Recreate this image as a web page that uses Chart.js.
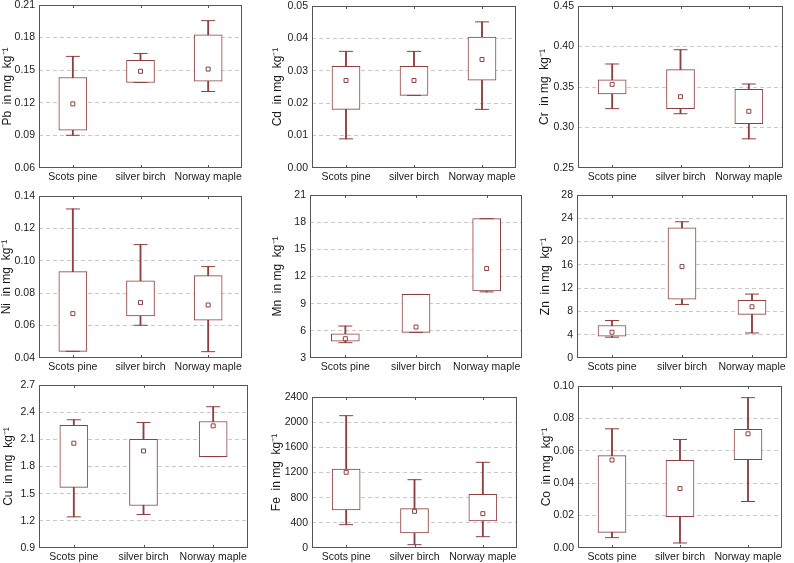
<!DOCTYPE html>
<html>
<head>
<meta charset="utf-8">
<script src="https://cdn.jsdelivr.net/npm/chart.js@4/dist/chart.umd.min.js"></script>
<style>
  html, body { margin: 0; padding: 0; background: #fff; }
  body { width: 794px; height: 563px; position: relative; overflow: hidden; }
  canvas { position: absolute; }
</style>
</head>
<body>
<script>
// values, per species: [min, box bottom, marker, box top, max]
const categories = ["Scots pine", "silver birch", "Norway maple"];

const pb = [[0.0901, 0.0947, 0.119, 0.1433, 0.1627], [0.1387, 0.1387, 0.149, 0.159, 0.1654], [0.1304, 0.1399, 0.151, 0.1826, 0.1956]];
const pbTicks = [0.06, 0.09, 0.12, 0.15, 0.18, 0.21];

const cd = [[0.009, 0.0181, 0.027, 0.0314, 0.036], [0.0224, 0.0224, 0.027, 0.0314, 0.036], [0.0181, 0.0271, 0.0335, 0.0404, 0.0451]];
const cdTicks = [0.00, 0.01, 0.02, 0.03, 0.04, 0.05];

const cr = [[0.3233, 0.3414, 0.3533, 0.359, 0.3784], [0.317, 0.3233, 0.338, 0.3714, 0.396], [0.286, 0.3047, 0.320, 0.347, 0.3537]];
const crTicks = [0.25, 0.30, 0.35, 0.40, 0.45];

const ni = [[0.0441, 0.0441, 0.0674, 0.0933, 0.132], [0.0602, 0.0659, 0.0742, 0.0877, 0.110], [0.0439, 0.0633, 0.0727, 0.0908, 0.0964]];
const niTicks = [0.04, 0.06, 0.08, 0.10, 0.12, 0.14];

const mn = [[4.69, 4.87, 5.13, 5.68, 6.53], [5.83, 5.83, 6.42, 10.02, 10.02], [10.3, 10.42, 12.88, 18.39, 18.39]];
const mnTicks = [3, 6, 9, 12, 15, 18, 21];

const zn = [[3.57, 3.74, 4.43, 5.58, 6.44], [9.2, 10.12, 15.7, 22.37, 23.4], [4.3, 7.5, 8.8, 9.9, 10.98]];
const znTicks = [0, 4, 8, 12, 16, 20, 24, 28];

const cu = [[1.244, 1.569, 2.057, 2.256, 2.316], [1.27, 1.369, 1.972, 2.101, 2.286], [1.909, 1.909, 2.249, 2.297, 2.46]];
const cuTicks = [0.9, 1.2, 1.5, 1.8, 2.1, 2.4, 2.7];

const fe = [[371, 604, 1203, 1256, 2103], [53, 239, 583, 625, 1086], [180, 429, 546, 853, 1362]];
const feTicks = [0, 400, 800, 1200, 1600, 2000, 2400];

const co = [[0.0064, 0.0096, 0.0543, 0.057, 0.0736], [0.0031, 0.0193, 0.0367, 0.0541, 0.067], [0.0287, 0.0545, 0.0705, 0.0732, 0.0928]];
const coTicks = [0.00, 0.02, 0.04, 0.06, 0.08, 0.10];

// plot-area boxes on the page [left, top, right, bottom], d = gap from title centre to frame
const panels = [
    { el: "Pb", vals: pb, ticks: pbTicks, dec: 2, area: [39, 5, 247, 168], d: 31 },
    { el: "Cd", vals: cd, ticks: cdTicks, dec: 2, area: [312, 6, 521, 168], d: 34.5 },
    { el: "Cr", vals: cr, ticks: crTicks, dec: 2, area: [578, 6, 788, 168], d: 33 },
    { el: "Ni", vals: ni, ticks: niTicks, dec: 2, area: [39, 196, 247, 358], d: 32 },
    { el: "Mn", vals: mn, ticks: mnTicks, dec: 0, area: [310, 195, 527, 358], d: 32.3 },
    { el: "Zn", vals: zn, ticks: znTicks, dec: 0, area: [577, 195, 792, 358], d: 31.7 },
    { el: "Cu", vals: cu, ticks: cuTicks, dec: 1, area: [39, 385, 253, 548], d: 30.7 },
    { el: "Fe", vals: fe, ticks: feTicks, dec: 0, area: [312, 397, 522, 548], d: 35 },
    { el: "Co", vals: co, ticks: coTicks, dec: 2, area: [578, 386, 787, 548], d: 31.6 }
];

const boxColor = "#8f3f3f";
const frameColor = "#555555";
const AXIS_W = 44, PAD_T = 12, PAD_R = 3, AXIS_H = 22;

Chart.defaults.font.family = "'Liberation Sans', Arial, sans-serif";
Chart.defaults.color = "#1a1a1a";

// frame round the plot + small inward ticks at the categories
const framePlugin = {
    id: "frame",
    afterDraw(chart) {
        const { ctx, chartArea: a } = chart;
        const xs = chart.scales.x;
        ctx.save();
        ctx.strokeStyle = frameColor;
        ctx.lineWidth = 1;
        ctx.strokeRect(a.left + 0.5, a.top + 0.5, a.right - a.left - 1, a.bottom - a.top - 1);
        ctx.beginPath();
        xs.ticks.forEach((t, i) => {
            const px = Math.round(xs.getPixelForTick(i)) + 0.5;
            ctx.moveTo(px, a.top); ctx.lineTo(px, a.top + 3);
            ctx.moveTo(px, a.bottom); ctx.lineTo(px, a.bottom - 3);
        });
        ctx.stroke();
        ctx.restore();
    }
};

function makePanel(p) {
    const [x0, y0, x1, y1] = p.area;
    const cv = document.createElement("canvas");
    const w = x1 - x0 + AXIS_W + PAD_R;
    const h = y1 - y0 + PAD_T + AXIS_H;
    cv.width = w; cv.height = h;
    cv.style.left = (x0 - AXIS_W) + "px";
    cv.style.top = (y0 - PAD_T) + "px";
    cv.style.width = w + "px"; cv.style.height = h + "px";
    document.body.appendChild(cv);

    const col = (k) => p.vals.map(r => r[k]);
    const last = p.ticks.length - 1;

    new Chart(cv.getContext("2d"), {
        type: "bar",
        data: {
            labels: categories,
            datasets: [
                {
                    type: "bar", order: 4, grouped: false,
                    data: p.vals.map(r => [r[0], r[4]]),
                    barThickness: 1.2, backgroundColor: boxColor, borderWidth: 0
                },
                {
                    type: "bar", order: 3, grouped: false,
                    data: p.vals.map(r => [r[1], r[3]]),
                    barThickness: 28, backgroundColor: "#fff",
                    borderColor: boxColor, borderWidth: 1, borderSkipped: false
                },
                {
                    type: "line", order: 2, data: col(4), showLine: false,
                    pointStyle: "line", pointRadius: 7, pointBorderWidth: 1, pointBorderColor: boxColor
                },
                {
                    type: "line", order: 2, data: col(0), showLine: false,
                    pointStyle: "line", pointRadius: 7, pointBorderWidth: 1, pointBorderColor: boxColor
                },
                {
                    type: "line", order: 1, data: col(2), showLine: false,
                    pointStyle: "rect", pointRadius: 2.8, pointBorderWidth: 1,
                    pointBorderColor: boxColor, pointBackgroundColor: "#fff"
                }
            ]
        },
        options: {
            responsive: false,
            animation: false,
            events: [],
            layout: { padding: { left: 0, top: PAD_T, right: PAD_R, bottom: 0 } },
            plugins: { legend: { display: false }, tooltip: { enabled: false } },
            scales: {
                x: {
                    offset: true,
                    grid: { display: false, drawTicks: false },
                    border: { display: false },
                    ticks: { font: { size: 10.5 }, padding: 3, maxRotation: 0, autoSkip: false },
                    afterFit: (s) => { s.height = AXIS_H; }
                },
                y: {
                    min: p.ticks[0], max: p.ticks[last],
                    afterBuildTicks: (s) => { s.ticks = p.ticks.map(v => ({ value: v })); },
                    grid: {
                        drawTicks: false,
                        color: (c) => (c.index === 0 || c.index === last) ? "rgba(0,0,0,0)" : "#c9c9c9"
                    },
                    border: { display: false, dash: [4, 3] },
                    ticks: {
                        font: { size: 10.5 }, padding: 4,
                        callback: (v, i) => p.ticks[i].toFixed(p.dec)
                    },
                    title: {
                        display: true,
                        text: p.el + "  in mg  kg\u207B\u00B9",
                        font: { size: 12 },
                        padding: { top: AXIS_W - p.d - 7.2, bottom: 0 }
                    },
                    afterFit: (s) => { s.width = AXIS_W; }
                }
            }
        },
        plugins: [framePlugin]
    });
}

window.onload = function () {
    panels.forEach(makePanel);
};
</script>
</body>
</html>
